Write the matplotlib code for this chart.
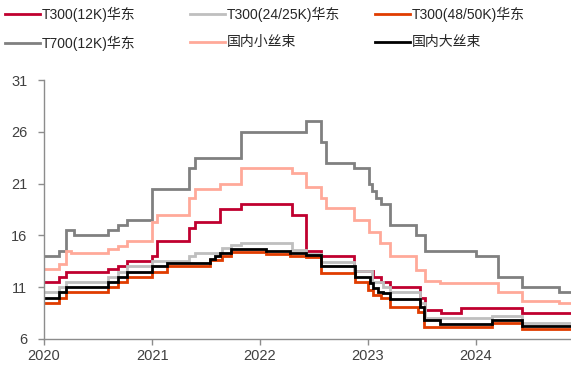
import matplotlib
matplotlib.use("Agg")
import matplotlib.pyplot as plt
import matplotlib.dates as mdates
import pandas as pd

plt.rcParams['font.family'] = ['Liberation Sans', 'Noto Sans CJK SC', 'DejaVu Sans']

END_DATE = "2024-11-18"

labels = ["T300(12K)华东", "T300(24/25K)华东", "T300(48/50K)华东",
          "T700(12K)华东", "国内小丝束", "国内大丝束"]
colors = ["#C0002F", "#BFBFBF", "#E03C00", "#808080", "#FFA999", "#000000"]

t300_12k_dates = ["2020-01-01", "2020-02-21", "2020-03-14", "2020-08-06", "2020-09-09",
                  "2020-10-08", "2020-12-31", "2021-01-16", "2021-05-06", "2021-05-27",
                  "2021-08-20", "2021-10-30", "2022-04-19", "2022-06-07", "2022-07-27",
                  "2022-11-14", "2023-01-18", "2023-02-15", "2023-03-16", "2023-06-25",
                  "2023-07-14", "2023-09-04", "2023-11-13", "2024-06-04"]
t300_12k_vals = [11.5, 12.0, 12.5, 12.75, 13.0, 13.5, 14.0, 15.5, 16.75, 17.25,
                 18.5, 19.0, 18.0, 14.45, 14.0, 12.6, 12.0, 11.5, 11.05, 9.95,
                 8.8, 8.5, 9.0, 8.5]

t300_24k_dates = ["2020-01-01", "2020-02-21", "2020-03-14", "2020-08-06", "2020-09-09",
                  "2020-10-08", "2020-12-31", "2021-05-06", "2021-05-27", "2021-08-24",
                  "2021-09-24", "2021-10-30", "2022-04-19", "2022-06-07", "2022-07-27",
                  "2022-11-14", "2023-01-14", "2023-02-20", "2023-03-16", "2023-06-25",
                  "2023-07-14", "2024-02-24", "2024-06-04"]
t300_24k_vals = [10.5, 11.0, 11.5, 12.0, 12.5, 13.0, 13.5, 14.0, 14.3, 14.75,
                 15.05, 15.3, 14.6, 14.25, 13.45, 12.55, 11.5, 11.05, 10.55, 9.45,
                 8.0, 8.2, 7.55]

t300_48k_dates = ["2020-01-01", "2020-02-21", "2020-03-14", "2020-08-06", "2020-09-09",
                  "2020-10-08", "2020-12-31", "2021-02-19", "2021-07-15", "2021-08-24",
                  "2021-09-24", "2022-01-21", "2022-04-12", "2022-06-07", "2022-07-27",
                  "2022-11-17", "2023-01-01", "2023-01-18", "2023-02-15", "2023-03-16",
                  "2023-06-19", "2023-07-10", "2024-02-24", "2024-06-04"]
t300_48k_vals = [9.5, 10.0, 10.5, 11.0, 11.5, 12.0, 12.5, 13.0, 13.6, 14.0,
                 14.35, 14.2, 14.0, 13.9, 12.35, 11.5, 10.7, 10.25, 9.95, 9.1,
                 8.65, 7.2, 7.5, 7.0]

t700_dates = ["2020-01-01", "2020-02-21", "2020-03-14", "2020-04-12", "2020-08-06",
              "2020-09-09", "2020-10-08", "2020-12-31", "2021-05-06", "2021-05-27",
              "2021-10-30", "2022-06-07", "2022-07-27", "2022-08-11", "2022-11-14",
              "2023-01-05", "2023-01-14", "2023-01-27", "2023-02-15", "2023-03-16",
              "2023-06-14", "2023-07-14", "2024-01-03", "2024-03-17", "2024-06-04",
              "2024-10-08"]
t700_vals = [14.0, 14.5, 16.5, 16.0, 16.5, 17.0, 17.5, 20.5, 22.5, 23.5,
             26.0, 27.0, 25.0, 23.0, 22.5, 21.0, 20.3, 19.6, 19.0, 17.0,
             16.0, 14.5, 14.0, 12.0, 11.0, 10.5]

small_tow_dates = ["2020-01-01", "2020-02-21", "2020-03-14", "2020-04-03", "2020-08-06",
                   "2020-09-09", "2020-10-08", "2020-12-31", "2021-01-16", "2021-05-06",
                   "2021-05-27", "2021-08-20", "2021-10-30", "2022-04-19", "2022-06-07",
                   "2022-07-27", "2022-08-11", "2022-11-14", "2023-01-05", "2023-02-10",
                   "2023-03-16", "2023-06-14", "2023-07-14", "2023-09-01", "2024-03-17",
                   "2024-06-04", "2024-10-08"]
small_tow_vals = [12.75, 13.25, 14.5, 14.3, 14.65, 15.0, 15.5, 17.3, 18.0, 19.6,
                  20.5, 21.0, 22.5, 22.0, 20.7, 19.6, 18.6, 17.5, 16.3, 15.3,
                  14.0, 12.7, 11.6, 11.45, 10.55, 9.7, 9.5]

large_tow_dates = ["2020-01-01", "2020-02-21", "2020-03-14", "2020-08-06", "2020-09-09",
                   "2020-10-08", "2020-12-31", "2021-02-19", "2021-07-15", "2021-08-01",
                   "2021-08-20", "2021-09-24", "2022-01-21", "2022-04-12", "2022-06-07",
                   "2022-07-27", "2022-11-17", "2023-01-07", "2023-01-18", "2023-02-04",
                   "2023-02-20", "2023-03-16", "2023-06-25", "2023-07-10", "2023-09-01",
                   "2024-02-24", "2024-06-04"]
large_tow_vals = [10.0, 10.5, 11.0, 11.5, 12.0, 12.5, 13.0, 13.35, 13.7, 14.0,
                  14.3, 14.65, 14.45, 14.27, 14.1, 13.0, 12.0, 11.4, 10.9, 10.55,
                  10.4, 9.85, 9.1, 7.8, 7.45, 7.85, 7.25]

series = [(t300_12k_dates, t300_12k_vals), (t300_24k_dates, t300_24k_vals),
          (t300_48k_dates, t300_48k_vals), (t700_dates, t700_vals),
          (small_tow_dates, small_tow_vals), (large_tow_dates, large_tow_vals)]

y_ticks = [6, 11, 16, 21, 26, 31]

fig = plt.figure(figsize=(5.71, 3.67), dpi=100)
ax = fig.add_axes([44 / 571, 1 - 339 / 367, 1 - 44 / 571, (339 - 80) / 367])

handles = []
for (d, v), lab, c in zip(series, labels, colors):
    dd = pd.to_datetime(list(d) + [END_DATE])
    vv = list(v) + [v[-1]]
    h, = ax.step(dd, vv, where="post", color=c, lw=2.0, label=lab, solid_joinstyle="miter")
    handles.append(h)

ax.set_ylim(6, 31)
ax.set_yticks(y_ticks)
ax.set_xlim(pd.Timestamp("2020-01-01"), pd.Timestamp(END_DATE))
ax.xaxis.set_major_locator(mdates.YearLocator())
ax.xaxis.set_major_formatter(mdates.DateFormatter("%Y"))

for s in ["top", "right"]:
    ax.spines[s].set_visible(False)
for s in ["left", "bottom"]:
    ax.spines[s].set_color("#8C8C8C")
    ax.spines[s].set_linewidth(1.0)
ax.tick_params(axis="both", colors="#8C8C8C", labelcolor="#404040", labelsize=10.5,
               length=4, width=1.0, direction="out")
ax.tick_params(axis="y", pad=8)
ax.tick_params(axis="x", pad=3)

col_x = [5, 190, 375]
for i, x in enumerate(col_x):
    fig.legend(handles=[handles[i], handles[i + 3]], labels=[labels[i], labels[i + 3]],
               loc="upper left", bbox_to_anchor=(x / 571, 1 - 7 / 367),
               frameon=False, borderpad=0, borderaxespad=0, fontsize=10,
               handlelength=2.5, handletextpad=0.15, labelspacing=0.95,
               labelcolor="#262626")

fig.savefig("out.png", dpi=100)
